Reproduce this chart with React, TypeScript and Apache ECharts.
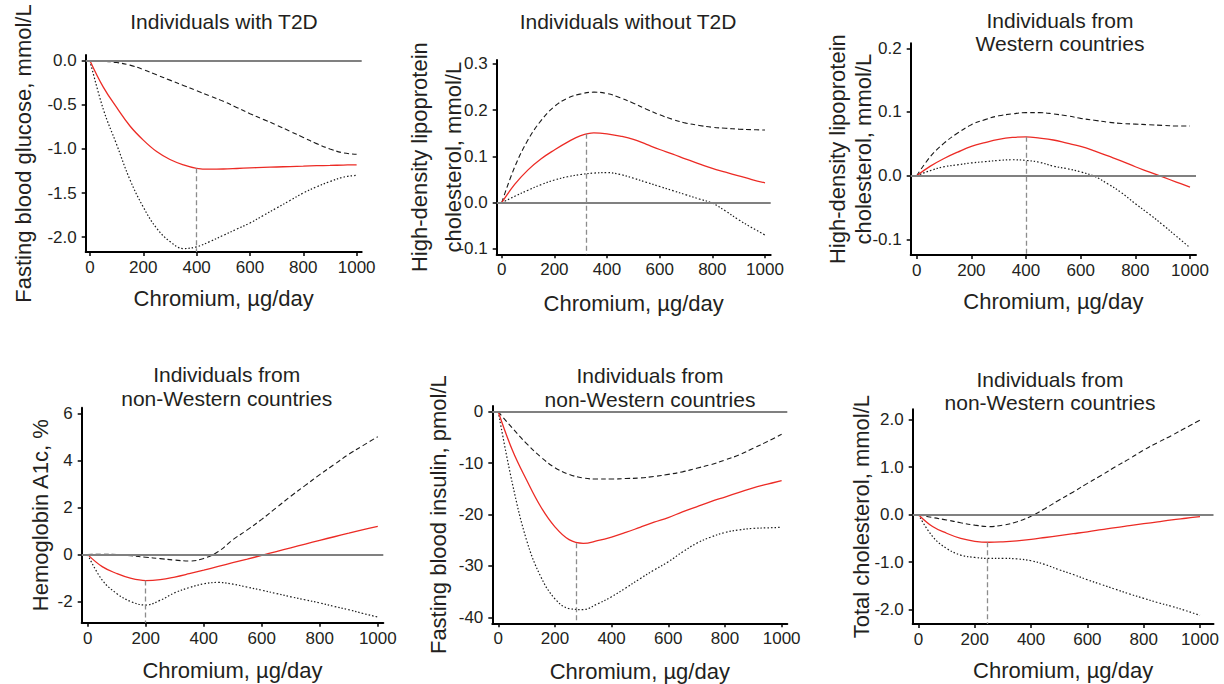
import React, { useEffect, useRef } from "react";
import * as echarts from "echarts";

// ---------- data ----------
const chromiumDose = [0, 50, 100, 150, 200, 250, 300, 350, 400, 450, 500, 550, 600, 650, 700, 750, 800, 850, 900, 950, 1000];

// Individuals with T2D – fasting blood glucose (mmol/L)
const glucoseEst = [0, -0.3, -0.53, -0.74, -0.9, -1.03, -1.12, -1.18, -1.22, -1.23, -1.228, -1.222, -1.215, -1.21, -1.205, -1.2, -1.195, -1.19, -1.187, -1.183, -1.18];
const glucoseUpper = [0, -0.005, -0.02, -0.05, -0.1, -0.16, -0.22, -0.28, -0.34, -0.4, -0.46, -0.53, -0.6, -0.665, -0.73, -0.8, -0.87, -0.94, -1.0, -1.045, -1.06];
const glucoseLower = [0, -0.55, -0.95, -1.35, -1.66, -1.9, -2.05, -2.13, -2.11, -2.05, -1.98, -1.91, -1.84, -1.755, -1.67, -1.585, -1.5, -1.43, -1.37, -1.32, -1.3];

// Individuals without T2D – HDL cholesterol (mmol/L)
const hdlNoT2DEst = [0, 0.04, 0.071, 0.095, 0.114, 0.131, 0.145, 0.151, 0.149, 0.144, 0.137, 0.126, 0.115, 0.105, 0.094, 0.084, 0.074, 0.066, 0.058, 0.05, 0.043];
const hdlNoT2DUpper = [0, 0.078, 0.136, 0.178, 0.208, 0.226, 0.235, 0.239, 0.236, 0.227, 0.215, 0.202, 0.19, 0.18, 0.172, 0.167, 0.163, 0.161, 0.159, 0.158, 0.157];
const hdlNoT2DLower = [0, 0.014, 0.027, 0.039, 0.049, 0.056, 0.061, 0.064, 0.065, 0.061, 0.053, 0.044, 0.035, 0.026, 0.017, 0.008, -0.001, -0.018, -0.037, -0.054, -0.07];

// Western countries – HDL cholesterol (mmol/L)
const hdlWesternEst = [0, 0.015, 0.027, 0.037, 0.046, 0.052, 0.057, 0.06, 0.061, 0.059, 0.056, 0.051, 0.046, 0.039, 0.031, 0.023, 0.014, 0.006, -0.002, -0.01, -0.018];
const hdlWesternUpper = [0, 0.03, 0.051, 0.067, 0.08, 0.088, 0.094, 0.097, 0.099, 0.099, 0.097, 0.094, 0.09, 0.087, 0.084, 0.082, 0.081, 0.08, 0.079, 0.078, 0.078];
const hdlWesternLower = [0, 0.008, 0.014, 0.017, 0.02, 0.022, 0.024, 0.025, 0.024, 0.021, 0.015, 0.011, 0.006, -0.001, -0.013, -0.027, -0.044, -0.06, -0.077, -0.095, -0.113];

// non-Western countries – hemoglobin A1c (%)
const hba1cEst = [0, -0.51, -0.8, -1.01, -1.1, -1.06, -0.95, -0.81, -0.66, -0.5, -0.34, -0.19, -0.03, 0.13, 0.29, 0.45, 0.61, 0.76, 0.91, 1.06, 1.2];
const hba1cUpper = [0, 0.02, 0.0, -0.05, -0.11, -0.17, -0.23, -0.27, -0.16, 0.13, 0.63, 1.05, 1.5, 1.99, 2.48, 2.94, 3.4, 3.83, 4.26, 4.64, 5.01];
const hba1cLower = [0, -1.08, -1.65, -2.0, -2.14, -1.94, -1.62, -1.4, -1.24, -1.18, -1.25, -1.38, -1.51, -1.65, -1.79, -1.92, -2.05, -2.2, -2.34, -2.5, -2.65];

// non-Western countries – fasting blood insulin (pmol/L)
const insulinEst = [0, -7.5, -13.3, -18.5, -22.4, -24.9, -25.6, -25.1, -24.4, -23.5, -22.5, -21.5, -20.6, -19.5, -18.5, -17.5, -16.6, -15.7, -14.8, -14.1, -13.4];
const insulinUpper = [0, -3.2, -6.2, -8.8, -10.9, -12.2, -12.9, -13.1, -13.1, -13.0, -12.9, -12.6, -12.2, -11.7, -11.0, -10.3, -9.4, -8.4, -7.1, -5.8, -4.4];
const insulinLower = [0, -14, -25, -32.1, -36.4, -38.3, -38.5, -37.4, -36, -34.3, -32.5, -30.8, -29.2, -27.3, -25.6, -24.4, -23.5, -23.0, -22.7, -22.6, -22.5];

// non-Western countries – total cholesterol (mmol/L)
const tcEst = [0, -0.25, -0.39, -0.5, -0.56, -0.58, -0.57, -0.55, -0.52, -0.48, -0.44, -0.4, -0.36, -0.315, -0.27, -0.23, -0.19, -0.15, -0.11, -0.075, -0.04];
const tcUpper = [0, -0.06, -0.11, -0.17, -0.22, -0.25, -0.22, -0.15, -0.03, 0.13, 0.31, 0.48, 0.66, 0.83, 1.01, 1.18, 1.36, 1.52, 1.67, 1.83, 1.99];
const tcLower = [0, -0.46, -0.71, -0.85, -0.9, -0.92, -0.92, -0.93, -0.97, -1.05, -1.16, -1.26, -1.37, -1.47, -1.57, -1.67, -1.76, -1.85, -1.93, -2.02, -2.12];

// dose of maximal effect (vertical dashed line) and the effect there
const optimumDose = [400, 320, 400, 200, 275, 245];
const optimumEffect = [-1.22, 0.149, 0.061, -1.1, -25.6, -0.58];

const titles = [
  "Individuals with T2D",
  "Individuals without T2D",
  "Individuals from\nWestern countries",
  "Individuals from\nnon-Western countries",
  "Individuals from\nnon-Western countries",
  "Individuals from\nnon-Western countries",
];
const yNames = [
  "Fasting blood glucose, mmol/L",
  "High-density lipoprotein\ncholesterol, mmol/L",
  "High-density lipoprotein\ncholesterol, mmol/L",
  "Hemoglobin A1c, %",
  "Fasting blood insulin, pmol/L",
  "Total cholesterol, mmol/L",
];
const xName = "Chromium, µg/day";
const xTicks = [0, 200, 400, 600, 800, 1000];
const yTicks = [
  [-2, -1.5, -1, -0.5, 0],
  [-0.1, 0, 0.1, 0.2, 0.3],
  [-0.1, 0, 0.1, 0.2],
  [-2, 0, 2, 4, 6],
  [-40, -30, -20, -10, 0],
  [-2, -1, 0, 1, 2],
];
const yDecimals = [1, 1, 1, 0, 0, 1];

const panelData = [
  { est: glucoseEst, hi: glucoseUpper, lo: glucoseLower },
  { est: hdlNoT2DEst, hi: hdlNoT2DUpper, lo: hdlNoT2DLower },
  { est: hdlWesternEst, hi: hdlWesternUpper, lo: hdlWesternLower },
  { est: hba1cEst, hi: hba1cUpper, lo: hba1cLower },
  { est: insulinEst, hi: insulinUpper, lo: insulinLower },
  { est: tcEst, hi: tcUpper, lo: tcLower },
];

// ---------- layout ----------
const TITLE_LH = 23.5;
const layouts = [
  { left: 85.7, top: 55, width: 276, height: 197, xMin: -16, xMax: 1019, yMin: -2.169, yMax: 0.065, yGap: 51, yLH: 22, xGap: 35, tx: 224, ty: 10 },
  { left: 496.7, top: 60, width: 274, height: 194.3, xMin: -19, xMax: 1021.6, yMin: -0.1116, yMax: 0.3085, yGap: 26, yLH: 34, xGap: 38, tx: 628, ty: 10 },
  { left: 910.7, top: 43.3, width: 285.3, height: 211.7, xMin: -22, xMax: 1022, yMin: -0.1245, yMax: 0.2078, yGap: 34.4, yLH: 26, xGap: 35.7, tx: 1060, ty: 8.7 },
  { left: 81.7, top: 407.7, width: 301.6, height: 215, xMin: -20.7, xMax: 1019, yMin: -2.89, yMax: 6.24, yGap: 30, yLH: 22, xGap: 36.3, tx: 226.7, ty: 362.9 },
  { left: 492.3, top: 406, width: 295, height: 217.3, xMin: -21, xMax: 1020, yMin: -41.17, yMax: 1.11, yGap: 43, yLH: 22, xGap: 37.4, tx: 650, ty: 363.9 },
  { left: 912.7, top: 409.3, width: 300.8, height: 214.7, xMin: -20.6, xMax: 1048, yMin: -2.301, yMax: 2.219, yGap: 40, yLH: 22, xGap: 35, tx: 1050, ty: 367.4 },
];

const FONT = "'Liberation Sans', Arial, Helvetica, sans-serif";
const TEXT = "#231f20";
const RED = "#ec2b25";

const pairs = (x: number[], y: number[]) => x.map((v, i) => [v, y[i]]);

function buildOption() {
  const axisLineStyle = { color: "#000", width: 2 };
  return {
    animation: false,
    textStyle: { fontFamily: FONT },
    title: titles.map((t, i) => ({
      text: t,
      left: layouts[i].tx,
      top: layouts[i].ty,
      textAlign: "center",
      padding: 0,
      textStyle: { fontSize: 21, fontWeight: "normal", color: TEXT, fontFamily: FONT, lineHeight: TITLE_LH },
    })),
    grid: layouts.map((l) => ({ left: l.left, top: l.top, width: l.width, height: l.height, containLabel: false })),
    xAxis: layouts.map((l, i) => ({
      type: "value",
      gridIndex: i,
      min: l.xMin,
      max: l.xMax,
      name: xName,
      nameLocation: "middle",
      nameGap: l.xGap,
      nameMoveOverlap: false,
      nameTextStyle: { fontSize: 22, color: TEXT, fontFamily: FONT },
      axisLine: { show: true, onZero: false, lineStyle: axisLineStyle },
      axisTick: { show: true, length: 4, lineStyle: { color: "#000", width: 1.5 }, customValues: xTicks },
      axisLabel: { fontSize: 17, color: TEXT, margin: 7, fontFamily: FONT, customValues: xTicks, formatter: (v: number) => String(v) },
      splitLine: { show: false },
    })),
    yAxis: layouts.map((l, i) => ({
      type: "value",
      gridIndex: i,
      min: l.yMin,
      max: l.yMax,
      name: yNames[i],
      nameLocation: "middle",
      nameRotate: 90,
      nameGap: l.yGap,
      nameMoveOverlap: false,
      nameTextStyle: { fontSize: 22, color: TEXT, fontFamily: FONT, lineHeight: l.yLH },
      axisLine: { show: true, onZero: false, lineStyle: axisLineStyle },
      axisTick: { show: true, length: 4, lineStyle: { color: "#000", width: 1.5 }, customValues: yTicks[i] },
      axisLabel: {
        fontSize: 17,
        color: TEXT,
        margin: 9,
        fontFamily: FONT,
        customValues: yTicks[i],
        formatter: (v: number) => v.toFixed(yDecimals[i]),
      },
      splitLine: { show: false },
    })),
    series: panelData.flatMap((p, i) => [
      {
        type: "line",
        xAxisIndex: i,
        yAxisIndex: i,
        data: pairs(chromiumDose, p.hi),
        smooth: 0.4,
        showSymbol: false,
        symbol: "none",
        silent: true,
        lineStyle: { color: "#1a1a1a", width: 1.1, type: [5, 3] },
        z: 3,
        markLine: {
          silent: true,
          symbol: ["none", "none"],
          label: { show: false },
          animation: false,
          data: [
            { yAxis: 0, lineStyle: { color: "#808080", width: 2, type: "solid" } },
            [
              { coord: [optimumDose[i], optimumEffect[i]], lineStyle: { color: "#8c8c8c", width: 1.3, type: [5, 3] } },
              { coord: [optimumDose[i], layouts[i].yMin] },
            ],
          ],
        },
      },
      {
        type: "line",
        xAxisIndex: i,
        yAxisIndex: i,
        data: pairs(chromiumDose, p.lo),
        smooth: 0.4,
        showSymbol: false,
        symbol: "none",
        silent: true,
        lineStyle: { color: "#1a1a1a", width: 1.2, type: [1.5, 2] },
        z: 3,
      },
      {
        type: "line",
        xAxisIndex: i,
        yAxisIndex: i,
        data: pairs(chromiumDose, p.est),
        smooth: 0.4,
        showSymbol: false,
        symbol: "none",
        silent: true,
        lineStyle: { color: RED, width: 1.3, type: "solid" },
        z: 4,
      },
    ]),
  };
}

export default function App() {
  const ref = useRef<HTMLDivElement>(null);
  useEffect(() => {
    if (!ref.current) return;
    const chart = echarts.init(ref.current, undefined, { renderer: "svg" });
    chart.setOption(buildOption() as any);
    return () => chart.dispose();
  }, []);
  return (
    <div
      ref={ref}
      style={{ position: "fixed", left: 0, top: 0, width: 1224, height: 684, background: "#fff" }}
    />
  );
}
